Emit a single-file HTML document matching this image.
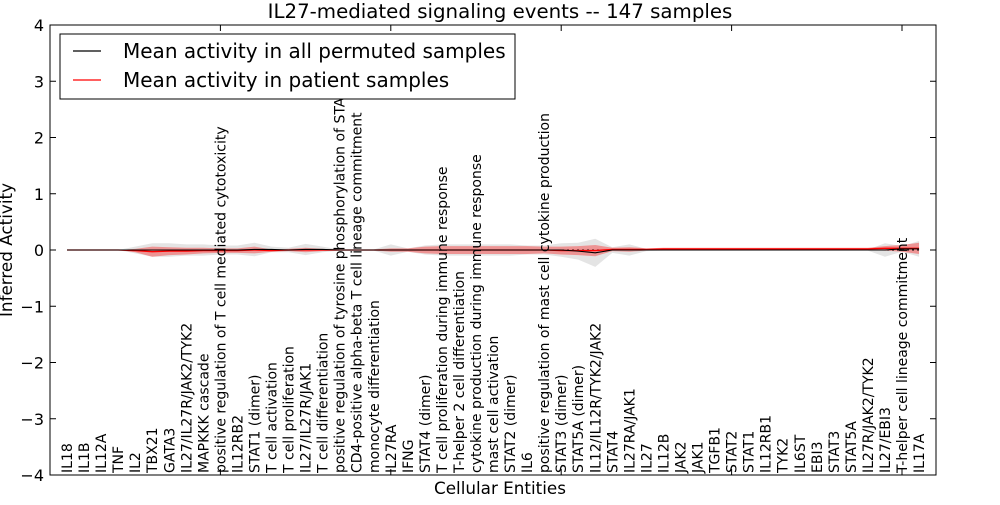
<!DOCTYPE html>
<html><head><meta charset="utf-8"><style>
body{margin:0;background:#fff;}
svg text{font-family:"DejaVu Sans","Liberation Sans",sans-serif;}
</style></head><body>
<svg id="chart" width="1000" height="500" viewBox="0 0 1000 500">
<defs><clipPath id="pc"><rect x="50" y="25" width="886" height="450"/></clipPath></defs>
<text x="500" y="18" text-anchor="middle" font-size="19.8">IL27-mediated signaling events -- 147 samples</text>
<g id="bands"></g><g id="lines"></g>
<rect x="50" y="25" width="886" height="450" fill="none" stroke="#000" stroke-width="1"/>
<g id="axes"></g><g id="xlabels" clip-path="url(#pc)"></g>
<text x="500" y="494" text-anchor="middle" font-size="16.8">Cellular Entities</text>
<text transform="translate(12,250) rotate(-90)" text-anchor="middle" font-size="16.8">Inferred Activity</text>
<g>
<rect x="60" y="34" width="455" height="65" fill="#fff" stroke="#000" stroke-width="1"/>
<line x1="73" y1="51" x2="101" y2="51" stroke="#000" stroke-width="1.2"/>
<text x="123" y="58" font-size="20">Mean activity in all permuted samples</text>
<line x1="73" y1="80" x2="101" y2="80" stroke="red" stroke-width="1.2"/>
<text x="123" y="87" font-size="20">Mean activity in patient samples</text>
</g>
</svg>
<script>
const categories=["IL18","IL1B","IL12A","TNF","IL2","TBX21","GATA3","IL27/IL27R/JAK2/TYK2","MAPKKK cascade","positive regulation of T cell mediated cytotoxicity","IL12RB2","STAT1 (dimer)","T cell activation","T cell proliferation","IL27/IL27R/JAK1","T cell differentiation","positive regulation of tyrosine phosphorylation of STAT protein","CD4-positive alpha-beta T cell lineage commitment","monocyte differentiation","IL27RA","IFNG","STAT4 (dimer)","T cell proliferation during immune response","T-helper 2 cell differentiation","cytokine production during immune response","mast cell activation","STAT2 (dimer)","IL6","positive regulation of mast cell cytokine production","STAT3 (dimer)","STAT5A (dimer)","IL12/IL12R/TYK2/JAK2","STAT4","IL27RA/JAK1","IL27","IL12B","JAK2","JAK1","TGFB1","STAT2","STAT1","IL12RB1","TYK2","IL6ST","EBI3","STAT3","STAT5A","IL27R/JAK2/TYK2","IL27/EBI3","T-helper cell lineage commitment","IL17A"];
const patientMean=[0,0,0,0,-0.01,-0.03,-0.02,-0.02,-0.01,-0.01,-0.01,0,-0.01,0,0,0,0,0,0,0,0,0,0,0,0,0,0,0,0,-0.01,-0.01,-0.01,0.01,0.01,0.01,0.02,0.02,0.02,0.02,0.02,0.02,0.02,0.02,0.02,0.02,0.02,0.02,0.02,0.03,0.03,0.03];
const permMean=[0,0,0,0,0,0,0,0,0,0,0,0.01,0.01,0,0.01,0.01,0,0,0,0,0,0,0,0,0,0,0,0,0,0,-0.02,-0.05,0,0,0,0,0,0,0,0,0,0,0,0,0,0,0,0,0,0.02,0.02];
const permSpread=[0,0,0,0,0.06,0.12,0.12,0.1,0.1,0.08,0.08,0.12,0.05,0.04,0.1,0.05,0.01,0.01,0.01,0.1,0.03,0.08,0.1,0.1,0.1,0.1,0.1,0.08,0.08,0.12,0.15,0.25,0.05,0.1,0.02,0.01,0.01,0.01,0.01,0.01,0.01,0.01,0.01,0.01,0.01,0.01,0.01,0.01,0.12,0.05,0.14];
const patientSpread=[0,0,0,0,0.03,0.09,0.07,0.06,0.05,0.04,0.04,0.06,0.02,0.02,0.04,0.02,0.01,0.01,0.01,0.03,0.03,0.06,0.07,0.07,0.07,0.07,0.07,0.07,0.06,0.07,0.08,0.1,0.03,0.04,0.02,0.02,0.02,0.02,0.02,0.02,0.02,0.02,0.02,0.02,0.02,0.02,0.02,0.02,0.04,0.06,0.1];
const yTicks=[-4,-3,-2,-1,0,1,2,3,4];
const xTicks=[10,20,30,40,50];
const NS="http://www.w3.org/2000/svg";
const X=i=>50+17.04*i, Y=v=>250-56.25*v;
function mk(t,a,p){const e=document.createElementNS(NS,t);for(const k in a)e.setAttribute(k,a[k]);document.getElementById(p).appendChild(e);return e;}
function band(mean,spread){let top=mean.map((m,i)=>X(i+1)+","+Y(m+spread[i]));let bot=mean.map((m,i)=>X(i+1)+","+Y(m-spread[i])).reverse();return top.concat(bot).join(" ");}
let g=mk("polygon",{points:band(permMean,permSpread),fill:"#bbb","fill-opacity":"0.4"},"bands");


let r=mk("polygon",{points:band(patientMean,patientSpread),fill:"#f00","fill-opacity":"0.35"},"bands");


let zl=mk("line",{x1:X(1),x2:X(51),y1:Y(0),y2:Y(0),stroke:"#000","stroke-dasharray":"2,3","stroke-width":"1"},"lines");


let pl=mk("polyline",{points:patientMean.map((m,i)=>X(i+1)+","+Y(m)).join(" "),fill:"none",stroke:"red","stroke-width":"1.3"},"lines");


let bl=mk("polyline",{points:permMean.map((m,i)=>X(i+1)+","+Y(m)).join(" "),fill:"none",stroke:"#000","stroke-width":"1.1"},"lines");


yTicks.forEach(v=>{
 mk("line",{x1:50,x2:56,y1:Y(v),y2:Y(v),stroke:"#000"},"axes");
 mk("line",{x1:930,x2:936,y1:Y(v),y2:Y(v),stroke:"#000"},"axes");
 let t=mk("text",{x:44,y:Y(v)+6,"text-anchor":"end","font-size":"16"},"axes");
 t.textContent=(v<0?"\u2212"+(-v):v);
 
 
});
xTicks.forEach(v=>{
 mk("line",{x1:X(v),x2:X(v),y1:25,y2:31,stroke:"#000"},"axes");
 mk("line",{x1:X(v),x2:X(v),y1:469,y2:475,stroke:"#000"},"axes");
});
categories.forEach((c,i)=>{
 let t=mk("text",{transform:`translate(${X(i+1)+5},473) rotate(-90)`,"font-size":"14"},"xlabels");
 t.textContent=c;
 
 
});
</script>
</body></html>
